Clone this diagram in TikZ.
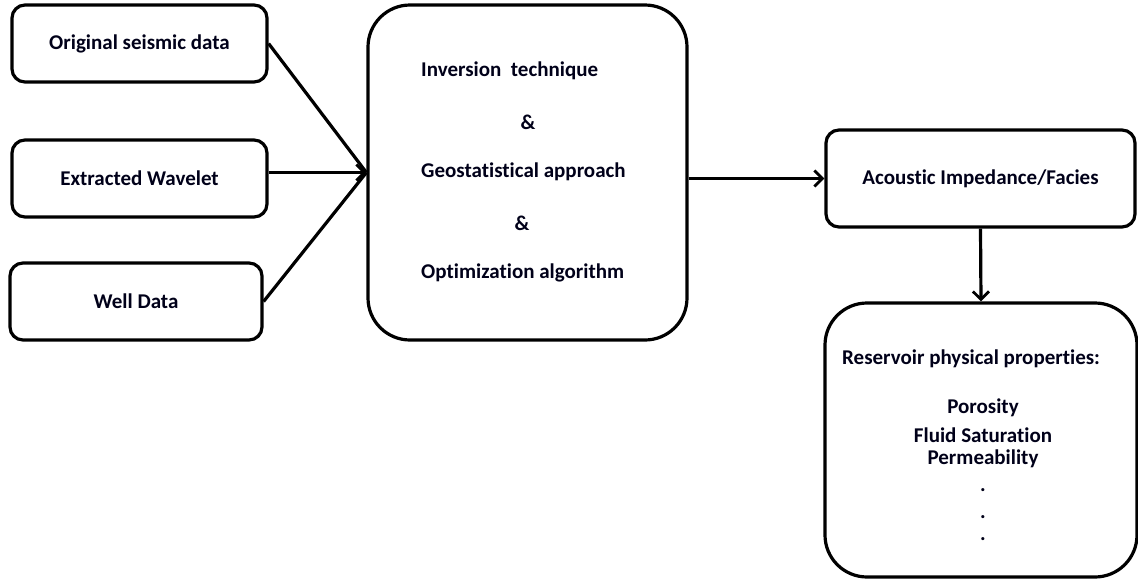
\documentclass[tikz,border=0pt]{standalone}
\usepackage{fontspec}
\setmainfont{Carlito}[Ligatures=NoCommon]
\usetikzlibrary{arrows.meta,positioning}

\tikzset{
  box/.style={draw, line width=3.2pt, rounded corners=#1, fill=white,
              inner sep=0pt, font=\fontsize{21}{25}\selectfont\bfseries},
  box/.default=13pt,
  lbl/.style={inner sep=0pt, font=\fontsize{21}{25}\selectfont\bfseries, text=black!90!blue},
  link/.style={line width=3.2pt},
  arr/.style={line width=3.2pt, -{Straight Barb[length=8pt,width=16pt,line width=2.8pt]}}
}

\begin{document}
\begin{tikzpicture}[x=1pt,y=-1pt]
  \useasboundingbox (0,0) rectangle (1138,579);

  % input boxes
  \node[box, minimum width=255pt, minimum height=77pt, text=black!90!blue] (seis) at (139.5,43.5) {Original seismic data};
  \node[box, minimum width=255pt, minimum height=77pt, text=black!90!blue] (wave) at (139.5,178.5) {Extracted Wavelet};
  \node[box, minimum width=252pt, minimum height=77pt, text=black!90!blue] (well) at (136,301.5) {Well Data};

  % central processing box
  \node[box=42pt, minimum width=319pt, minimum height=335pt] (proc) at (527.5,172.5) {};
  \node[lbl, anchor=west] (inv) at (421,71) {Inversion\ \ technique};
  \node[lbl] (amp1) at (528,122) {\&};
  \node[lbl, anchor=west] (geo) at (421,172) {Geostatistical approach};
  \node[lbl] (amp2) at (522,223) {\&};
  \node[lbl, anchor=west] (opt) at (421,273) {Optimization algorithm};

  % outputs
  \node[box, minimum width=309pt, minimum height=97pt, text=black!90!blue] (ai) at (980.5,178.5) {Acoustic Impedance/Facies};
  \node[box=42pt, minimum width=312pt, minimum height=274pt] (res) at (981,440) {};
  \node[lbl, anchor=west] (rtitle) at (842,359) {Reservoir physical properties:};
  \node[lbl] (por) at (983,408) {Porosity};
  \node[lbl] (sat) at (983,435) {Fluid Saturation};
  \node[lbl] (perm) at (983,459) {Permeability};
  \node[lbl] (d1) at (983,490) {.};
  \node[lbl] (d2) at (983,517) {.};
  \node[lbl] (d3) at (983,539) {.};

  % connectors
  \coordinate (join) at (proc.west);
  \draw[link] (seis.east) -- (join);
  \draw[link] (well.east) -- (join);
  \draw[arr] (wave.east |- join) -- (join);
  \draw[arr] (ai.west -| proc.east) -- (ai.west);
  \draw[arr] (ai.south) -- (res.north);
\end{tikzpicture}
\end{document}
